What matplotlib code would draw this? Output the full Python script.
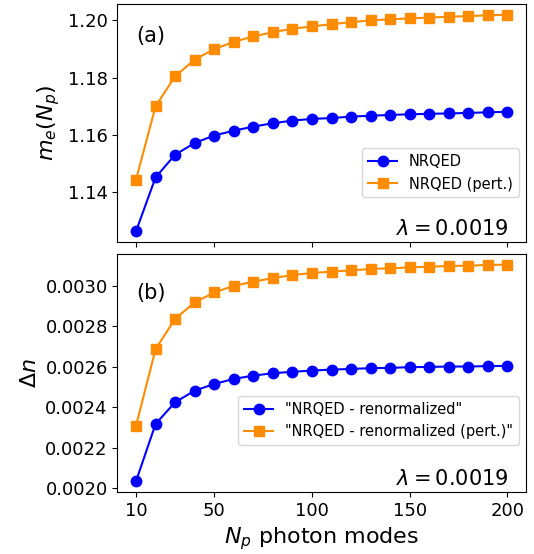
import matplotlib

matplotlib.use("Agg")
import matplotlib.pyplot as plt

# photon modes
n_modes = [10, 20, 30, 40, 50, 60, 70, 80, 90, 100,
           110, 120, 130, 140, 150, 160, 170, 180, 190, 200]

# (a) effective mass
me_nrqed = [1.1264, 1.1452, 1.1531, 1.1572, 1.1598, 1.1615, 1.1629, 1.1641, 1.1650, 1.1656,
            1.1659, 1.1664, 1.1667, 1.1670, 1.1672, 1.1674, 1.1675, 1.1677, 1.1679, 1.1681]
me_pert = [1.1444, 1.1700, 1.1805, 1.1863, 1.1900, 1.1925, 1.1944, 1.1959, 1.1971, 1.1979,
           1.1987, 1.1994, 1.2000, 1.2004, 1.2007, 1.2010, 1.2013, 1.2015, 1.2018, 1.2020]

# (b) Delta n
dn_renorm = [0.002036, 0.002318, 0.002425, 0.002482, 0.002515, 0.002540, 0.002556, 0.002568,
             0.002575, 0.002581, 0.002586, 0.002589, 0.002593, 0.002594, 0.002598, 0.002599,
             0.002601, 0.002601, 0.002603, 0.002604]
dn_pert = [0.002309, 0.002687, 0.002836, 0.002917, 0.002966, 0.002999, 0.003019, 0.003037,
           0.003052, 0.003062, 0.003069, 0.003075, 0.003082, 0.003085, 0.003090, 0.003093,
           0.003097, 0.003098, 0.003102, 0.003103]

xticks = [10, 50, 100, 150, 200]
lam_text = r"$\lambda = 0.0019$"

fig, (ax1, ax2) = plt.subplots(2, 1, figsize=(5.34, 5.54), dpi=100, sharex=True)
fig.subplots_adjust(left=0.22, right=0.985, top=0.993, bottom=0.112, hspace=0.05)

ax1.plot(n_modes, me_nrqed, "o-", color="blue", ms=7.5, label="NRQED")
ax1.plot(n_modes, me_pert, "s-", color="darkorange", ms=7.5, label="NRQED (pert.)")
ax1.set_ylabel(r"$m_e(N_p)$", fontsize=16)
ax1.set_yticks([1.14, 1.16, 1.18, 1.20])
ax1.text(0.047, 0.84, "(a)", transform=ax1.transAxes, fontsize=15)
ax1.text(0.957, 0.03, lam_text, transform=ax1.transAxes, fontsize=15, ha="right")
ax1.legend(loc="center right", bbox_to_anchor=(1.0, 0.29), fontsize=10.5)

ax2.plot(n_modes, dn_renorm, "o-", color="blue", ms=7.5, label='"NRQED - renormalized"')
ax2.plot(n_modes, dn_pert, "s-", color="darkorange", ms=7.5,
         label='"NRQED - renormalized (pert.)"')
ax2.set_ylabel(r"$\Delta n$", fontsize=16)
ax2.set_yticks([0.0020, 0.0022, 0.0024, 0.0026, 0.0028, 0.0030])
ax2.text(0.047, 0.81, "(b)", transform=ax2.transAxes, fontsize=15)
ax2.text(0.957, 0.03, lam_text, transform=ax2.transAxes, fontsize=15, ha="right")
ax2.legend(loc="center right", bbox_to_anchor=(1.0, 0.30), fontsize=10.5)
ax2.set_xticks(xticks)
ax2.set_xlabel(r"$N_p$ photon modes", fontsize=16)

for ax in (ax1, ax2):
    ax.tick_params(labelsize=13)

fig.savefig("out.png", dpi=100)
